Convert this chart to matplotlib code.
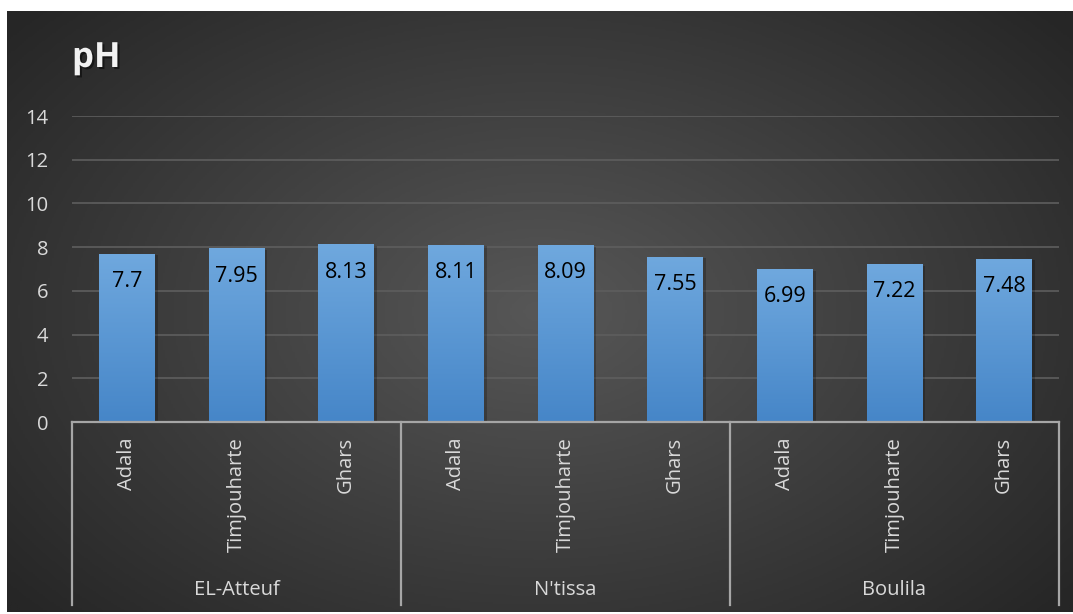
import numpy as np
import matplotlib.pyplot as plt
import matplotlib.patheffects as pe
from matplotlib.colors import LinearSegmentedColormap
from matplotlib.transforms import blended_transform_factory

plt.rcParams['font.family'] = ['Open Sans', 'DejaVu Sans']

# data
groups = ['EL-Atteuf', "N'tissa", 'Boulila']
sites = ['Adala', 'Timjouharte', 'Ghars']
ph_values = [7.7, 7.95, 8.13, 8.11, 8.09, 7.55, 6.99, 7.22, 7.48]
value_labels = ['7.7', '7.95', '8.13', '8.11', '8.09', '7.55', '6.99', '7.22', '7.48']
y_ticks = [0, 2, 4, 6, 8, 10, 12, 14]

W, H = 1073, 614
fig = plt.figure(figsize=(W / 100, H / 100), dpi=100)
fig.patch.set_facecolor('white')

# dark radial background
bg = fig.add_axes([7 / W, 2 / H, 1 - 7 / W, 1 - 13 / H])
bg.set_axis_off()
yy, xx = np.mgrid[-1:1:300j, -1:1:500j]
r = np.clip(np.sqrt((xx / 1.3) ** 2 + (yy / 1.5) ** 2), 0, 1)
bg_cmap = LinearSegmentedColormap.from_list('bg', ['#575757', '#262626'])
bg.imshow(r, cmap=bg_cmap, aspect='auto', extent=(0, 1, 0, 1), vmin=0, vmax=1)
bg.set_xlim(0, 1)
bg.set_ylim(0, 1)

ax = fig.add_axes([72 / W, (H - 422) / H, (1059 - 72) / W, (422 - 116) / H])
ax.patch.set_alpha(0)
x = np.arange(len(ph_values))
bars = ax.bar(x, ph_values, width=0.51, color='#5b9bd5', zorder=2,
              path_effects=[pe.SimplePatchShadow(offset=(2, -1), shadow_rgbFace='black', alpha=0.22),
                            pe.Normal()])

bar_cmap = LinearSegmentedColormap.from_list('bar', ['#4686c8', '#6fa8de'])
grad = np.linspace(0, 1, 100).reshape(-1, 1)
for b in bars:
    x0, y0 = b.get_x(), b.get_y()
    im = ax.imshow(grad, cmap=bar_cmap, origin='lower', aspect='auto', zorder=3,
                   extent=(x0, x0 + b.get_width(), y0, y0 + b.get_height()))
    im.set_clip_path(b)

for xi, v, lab in zip(x, ph_values, value_labels):
    ax.annotate(lab, (xi, v), xytext=(0, -20), textcoords='offset points', ha='center', va='center',
                fontsize=15.5, color='black', zorder=4)

ax.set_xlim(-0.5, len(ph_values) - 0.5)
ax.set_ylim(0, 14)
ax.set_yticks(y_ticks)
ax.yaxis.grid(True, color='#5e5e5e', linewidth=1.2, zorder=0)
ax.set_axisbelow(True)
for s in ['top', 'right', 'left']:
    ax.spines[s].set_visible(False)
ax.spines['bottom'].set_color('#a6a6a6')
ax.spines['bottom'].set_linewidth(1.6)
ax.spines['bottom'].set_zorder(5)

ax.set_xticks(x)
ax.set_xticklabels(sites * len(groups), rotation=90, color='#d9d9d9', fontsize=14.5)
ax.tick_params(axis='x', length=0, pad=11)
ax.tick_params(axis='y', length=0, pad=17, labelcolor='#d9d9d9', labelsize=14.5)

trans = blended_transform_factory(ax.transData, ax.transAxes)
n = len(sites)
for k in range(len(groups) + 1):
    xs = k * n - 0.5
    ax.plot([xs, xs], [0, -0.598], transform=trans, color='#a6a6a6', linewidth=1.6, clip_on=False)
for k, g in enumerate(groups):
    ax.text(k * n + (n - 1) / 2, -0.549, g, transform=trans, ha='center', va='center',
            color='#d9d9d9', fontsize=14.5)

fig.text(72 / W, 1 - 58 / H, 'pH', color='#f2f2f2', fontsize=25, fontweight='bold', va='center',
         path_effects=[pe.withSimplePatchShadow(offset=(1.5, -1.5), shadow_rgbFace='black', alpha=0.5)])

fig.savefig('out.png', dpi=100, facecolor=fig.get_facecolor())
